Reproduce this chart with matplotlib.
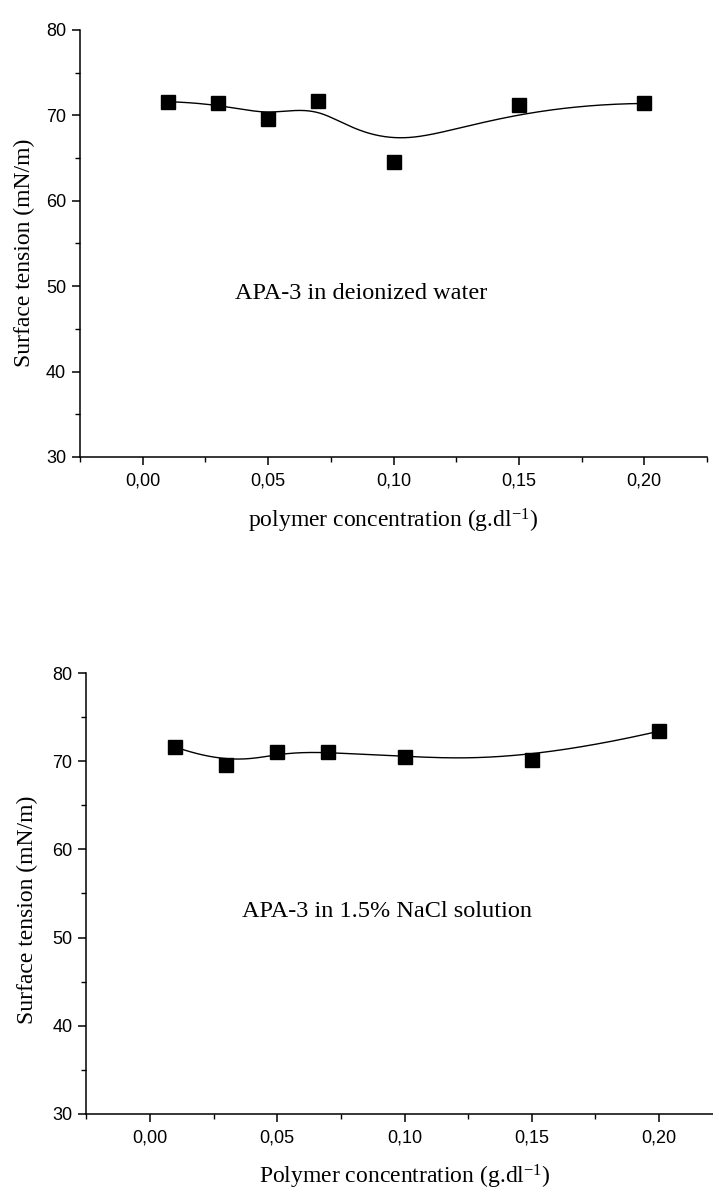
import numpy as np
import matplotlib
matplotlib.use("Agg")
import matplotlib.pyplot as plt
from matplotlib.ticker import MultipleLocator

# ---- data ----
conc = [0.01, 0.03, 0.05, 0.07, 0.10, 0.15, 0.20]
tension_water = [71.6, 71.45, 69.6, 71.7, 64.6, 71.25, 71.4]
tension_nacl = [71.6, 69.6, 71.0, 71.05, 70.45, 70.1, 73.4]
x_ticks = [0.00, 0.05, 0.10, 0.15, 0.20]
x_ticklabels = ["0,00", "0,05", "0,10", "0,15", "0,20"]
y_ticks = [30, 40, 50, 60, 70, 80]
label_water = "APA-3 in deionized water"
label_nacl = "APA-3 in 1.5% NaCl solution"
xlabel_top = "polymer concentration (g.dl$^{\\mathregular{-1}}$)"
xlabel_bot = "Polymer concentration (g.dl$^{\\mathregular{-1}}$)"
ylabel = "Surface tension (mN/m)"

plt.rcParams['mathtext.fontset'] = 'custom'
plt.rcParams['mathtext.rm'] = 'Liberation Serif'
plt.rcParams['mathtext.it'] = 'Liberation Serif:italic'


def bspline(xs, ys, n=400, k=3):
    """Clamped uniform cubic B-spline using data points as control points."""
    P = np.column_stack([xs, ys]).astype(float)
    m = len(P)
    inner = np.arange(1, m - k)
    knots = np.concatenate([np.zeros(k + 1), inner, np.full(k + 1, m - k)])
    ts = np.linspace(0, m - k, n)
    out = []
    for t in ts:
        if t >= knots[-1]:
            s = m - 1
        else:
            s = np.searchsorted(knots, t, side='right') - 1
        d = [P[j + s - k].copy() for j in range(k + 1)]
        for r in range(1, k + 1):
            for j in range(k, r - 1, -1):
                i = j + s - k
                denom = knots[i + k + 1 - r] - knots[i]
                a = 0 if denom == 0 else (t - knots[i]) / denom
                d[j] = (1 - a) * d[j - 1] + a * d[j]
        out.append(d[k])
    out = np.array(out)
    return out[:, 0], out[:, 1]


W, H = 713, 1191
fig = plt.figure(figsize=(W / 100, H / 100), dpi=100)

panels = [
    dict(rect=[80 / W, 1 - 457 / H, (707 - 80) / W, (457 - 30) / H],
         y=tension_water, label=label_water, xlabel=xlabel_top,
         text_xy=(0.087, 49.1), xlab_y=-0.166, ylab=(-0.088, 0.478)),
    dict(rect=[86.4 / W, 1 - 1114 / H, (722.6 - 86.4) / W, (1114 - 673) / H],
         y=tension_nacl, label=label_nacl, xlabel=xlabel_bot,
         text_xy=(0.0933, 53.0), xlab_y=-0.158, ylab=(-0.092, 0.463)),
]

serif = 'Liberation Serif'
sans = 'Liberation Sans'

for p in panels:
    ax = fig.add_axes(p['rect'])
    ax.set_xlim(-0.025, 0.225)
    ax.set_ylim(30, 80)
    bx, by = bspline(conc, p['y'])
    ax.plot(bx, by, color='black', lw=1.0, zorder=2, clip_on=False)
    ax.plot(conc, p['y'], linestyle='none', marker='s', markersize=10.5,
            color='black', zorder=3, clip_on=False)
    ax.spines['top'].set_visible(False)
    ax.spines['right'].set_visible(False)
    ax.spines['left'].set_linewidth(1.1)
    ax.spines['bottom'].set_linewidth(1.1)
    ax.set_xticks(x_ticks)
    ax.set_xticklabels(x_ticklabels, fontfamily=sans, fontsize=13)
    ax.set_yticks(y_ticks)
    ax.set_yticklabels([str(v) for v in y_ticks], fontfamily=sans, fontsize=13)
    ax.xaxis.set_minor_locator(MultipleLocator(0.025))
    ax.yaxis.set_minor_locator(MultipleLocator(5))
    ax.tick_params(which='major', direction='out', length=6, width=1.1, pad=5)
    ax.tick_params(which='minor', direction='out', length=3.5, width=1.0)
    ax.tick_params(axis='y', which='major', pad=4)
    ax.set_xlabel(p['xlabel'], fontfamily=serif, fontsize=17)
    ax.xaxis.set_label_coords(0.5, p['xlab_y'])
    ax.xaxis.label.set_va('baseline')
    ax.set_ylabel(ylabel, fontfamily=serif, fontsize=17)
    ax.yaxis.set_label_coords(p['ylab'][0], p['ylab'][1])
    ax.yaxis.label.set_va('center')
    ax.text(p['text_xy'][0], p['text_xy'][1], p['label'], fontfamily=serif,
            fontsize=17.5, ha='center', va='center')

fig.savefig('out.png', dpi=100)
